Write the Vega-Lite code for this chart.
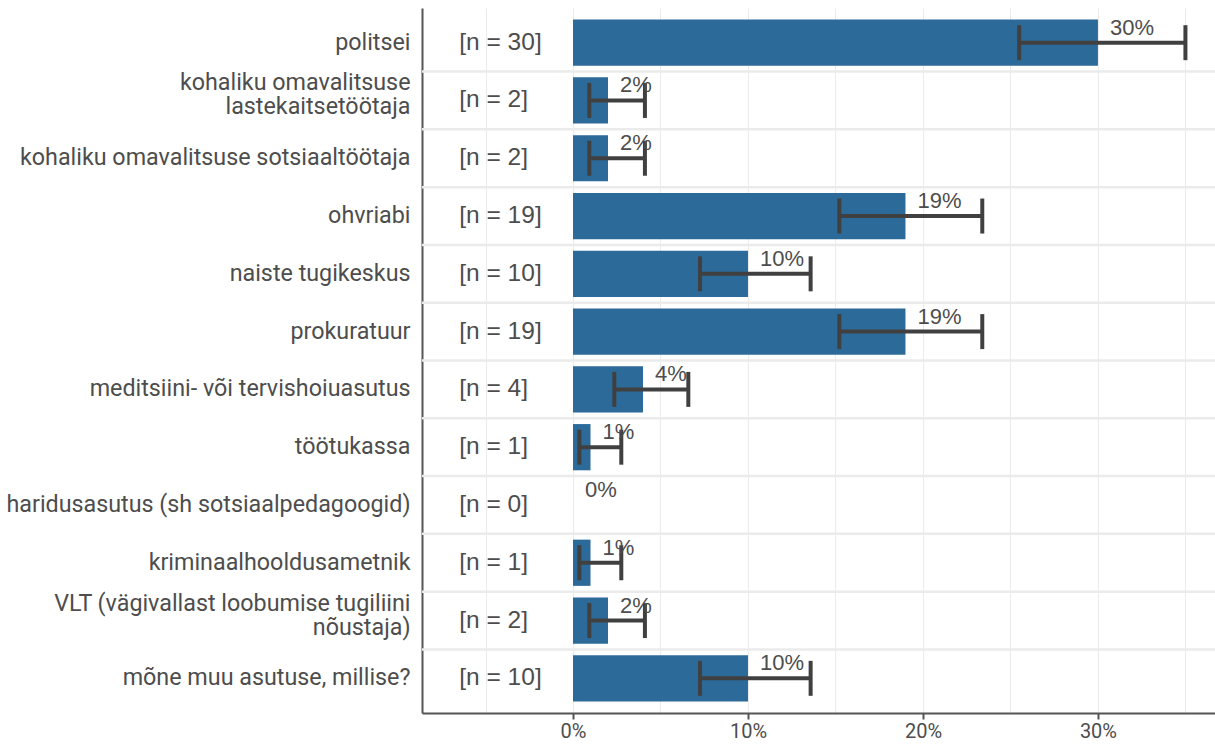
{
  "$schema": "https://vega.github.io/schema/vega-lite/v6.json",
  "width": 793,
  "height": 705,
  "autosize": {"type": "none"},
  "padding": {"left": 422, "top": 8, "right": 0, "bottom": 31},
  "background": "white",
  "config": {"view": {"stroke": null}},
  "data": {
    "values": [
      {"cat": "politsei", "p": 0.30, "lo": 0.255, "hi": 0.350, "nlab": "[n = 30]"},
      {"cat": "kohaliku omavalitsuse\nlastekaitsetöötaja", "p": 0.02, "lo": 0.0093, "hi": 0.0411, "nlab": "[n = 2]"},
      {"cat": "kohaliku omavalitsuse sotsiaaltöötaja", "p": 0.02, "lo": 0.0093, "hi": 0.0411, "nlab": "[n = 2]"},
      {"cat": "ohvriabi", "p": 0.19, "lo": 0.1522, "hi": 0.2339, "nlab": "[n = 19]"},
      {"cat": "naiste tugikeskus", "p": 0.10, "lo": 0.0726, "hi": 0.1358, "nlab": "[n = 10]"},
      {"cat": "prokuratuur", "p": 0.19, "lo": 0.1522, "hi": 0.2339, "nlab": "[n = 19]"},
      {"cat": "meditsiini- või tervishoiuasutus", "p": 0.04, "lo": 0.0236, "hi": 0.0659, "nlab": "[n = 4]"},
      {"cat": "töötukassa", "p": 0.01, "lo": 0.0036, "hi": 0.0276, "nlab": "[n = 1]"},
      {"cat": "haridusasutus (sh sotsiaalpedagoogid)", "p": 0.0, "lo": null, "hi": null, "nlab": "[n = 0]"},
      {"cat": "kriminaalhooldusametnik", "p": 0.01, "lo": 0.0036, "hi": 0.0276, "nlab": "[n = 1]"},
      {"cat": "VLT (vägivallast loobumise tugiliini\nnõustaja)", "p": 0.02, "lo": 0.0093, "hi": 0.0411, "nlab": "[n = 2]"},
      {"cat": "mõne muu asutuse, millise?", "p": 0.10, "lo": 0.0726, "hi": 0.1358, "nlab": "[n = 10]"}
    ]
  },
  "encoding": {
    "y": {
      "field": "cat",
      "type": "nominal",
      "sort": null,
      "scale": {"paddingInner": 0, "paddingOuter": 0.1},
      "axis": {
        "title": null,
        "ticks": false,
        "grid": false,
        "domain": true,
        "domainColor": "#555555",
        "domainWidth": 2,
        "labelFont": "Roboto",
        "labelFontSize": 23.3,
        "labelColor": "#4d4d4d",
        "labelPadding": 12,
        "labelLimit": 600,
        "labelLineHeight": 24,
        "labelOffset": {"condition": {"test": "indexof(datum.value, '\\n') >= 0", "value": -17}, "value": 0},
        "labelExpr": "split(datum.label, '\\n')"
      }
    }
  },
  "layer": [
    {
      "mark": {"type": "rule", "color": "#ebebeb", "strokeWidth": 2.5},
      "encoding": {
        "y": {"field": "cat", "type": "nominal", "sort": null, "bandPosition": 0},
        "strokeOpacity": {"condition": {"test": "datum.cat === 'politsei'", "value": 0}, "value": 1}
      }
    },
    {
      "mark": {"type": "bar", "color": "#2C6A99", "height": {"band": 0.8}},
      "encoding": {
        "x": {
          "field": "p",
          "type": "quantitative",
          "scale": {"domain": [-0.0863, 0.3669], "nice": false, "zero": false},
          "axis": {
            "title": null,
            "values": [-0.05, 0, 0.05, 0.1, 0.15, 0.2, 0.25, 0.3, 0.35],
            "grid": true,
            "gridColor": "#ebebeb",
            "gridWidth": 1,
            "domain": true,
            "domainColor": "#555555",
            "domainWidth": 2,
            "tickColor": "#555555",
            "tickWidth": 2,
            "tickSize": 6,
            "tickOpacity": {"condition": {"test": "datum.value >= -0.001 && datum.value <= 0.301 && abs(datum.value * 10 - round(datum.value * 10)) < 0.001", "value": 1}, "value": 0},
            "labelExpr": "datum.value >= -0.001 && datum.value <= 0.301 && abs(datum.value * 10 - round(datum.value * 10)) < 0.001 ? format(datum.value, '.0%') : ''",
            "labelFont": "Roboto",
            "labelFontSize": 20,
            "labelColor": "#4d4d4d",
            "labelPadding": 2
          }
        }
      }
    },
    {
      "transform": [{"filter": "isValid(datum.lo)"}],
      "mark": {"type": "rule", "color": "#404040", "strokeWidth": 4},
      "encoding": {
        "x": {"field": "lo", "type": "quantitative"},
        "x2": {"field": "hi"}
      }
    },
    {
      "transform": [{"filter": "isValid(datum.lo)"}],
      "mark": {"type": "tick", "color": "#404040", "size": 35, "thickness": 4, "opacity": 1},
      "encoding": {
        "x": {"field": "lo", "type": "quantitative"}
      }
    },
    {
      "transform": [{"filter": "isValid(datum.hi)"}],
      "mark": {"type": "tick", "color": "#404040", "size": 35, "thickness": 4, "opacity": 1},
      "encoding": {
        "x": {"field": "hi", "type": "quantitative"}
      }
    },
    {
      "mark": {"type": "text", "align": "left", "baseline": "alphabetic", "dx": 12, "dy": -8, "font": "Liberation Sans", "fontSize": 22, "color": "#4d4d4d"},
      "encoding": {
        "x": {"field": "p", "type": "quantitative"},
        "text": {"field": "p", "type": "quantitative", "format": ".0%"}
      }
    },
    {
      "mark": {"type": "text", "align": "left", "baseline": "middle", "font": "Liberation Sans", "fontSize": 24.5, "color": "#4d4d4d"},
      "encoding": {
        "x": {"datum": -0.065, "type": "quantitative"},
        "text": {"field": "nlab"}
      }
    }
  ]
}
